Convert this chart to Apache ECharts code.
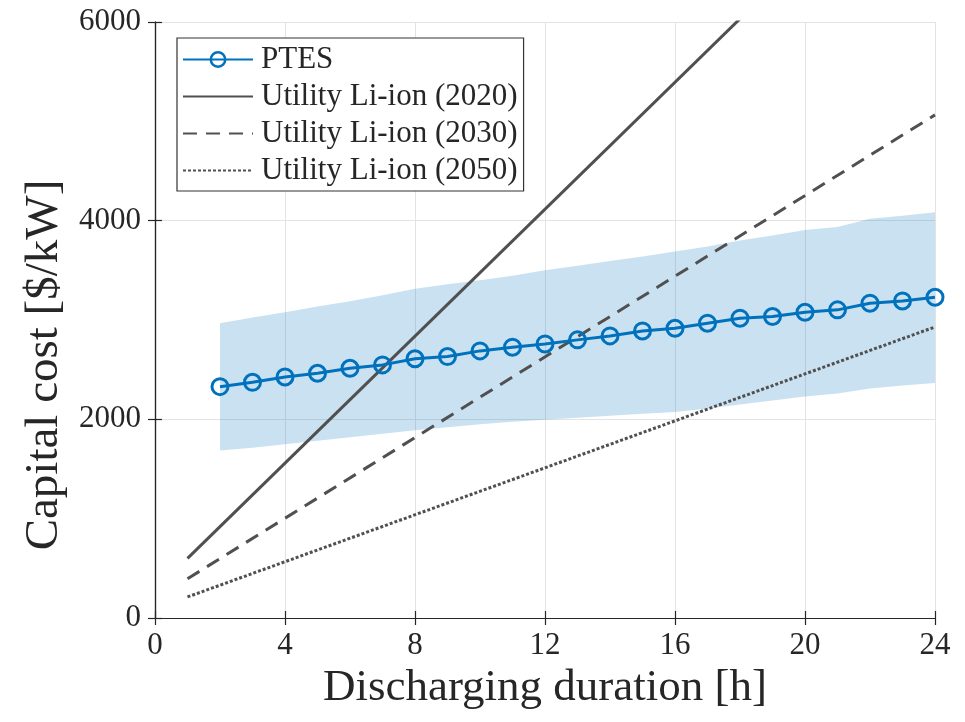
<!DOCTYPE html>
<html>
<head>
<meta charset="utf-8">
<script src="https://cdn.jsdelivr.net/npm/echarts@6/dist/echarts.min.js"></script>
<style>
  html, body { margin: 0; padding: 0; background: #fff; }
  #chart { width: 965px; height: 722px; }
</style>
</head>
<body>
<div id="chart"></div>
<script>
// discharging duration [h] for the PTES points
var hours = [2, 3, 4, 5, 6, 7, 8, 9, 10, 11, 12, 13, 14, 15, 16, 17, 18, 19, 20, 21, 22, 23, 24];
var ptes = [2329, 2373, 2427, 2464, 2514, 2548, 2610, 2632, 2689, 2726, 2759, 2800,
            2840, 2890, 2917, 2968, 3018, 3035, 3078, 3102, 3169, 3192, 3229];
var bandLow = [1685, 1715, 1750, 1785, 1820, 1855, 1890, 1920, 1950, 1975, 1995, 2015,
               2035, 2055, 2075, 2110, 2150, 2190, 2230, 2260, 2310, 2340, 2365];
var bandHigh = [2968, 3025, 3078, 3135, 3190, 3250, 3315, 3360, 3400, 3445, 3500, 3545,
                3595, 3640, 3690, 3740, 3800, 3850, 3905, 3935, 4020, 4050, 4085];

// Li-ion reference lines (end points)
var liHours = [1, 24];
var li2020 = [600, 7950];
var li2030 = [395, 5065];
var li2050 = [212, 2930];

var fontFam = 'Liberation Serif';
var blue = '#0072BD';
var grey = '#505050';
var ink = '#262626';

function pairs(xs, ys) {
	var out = [];
	for (var i = 0; i < xs.length; i++) out.push([xs[i], ys[i]]);
	return out;
}

var bandData = [];
for (var i = 0; i < hours.length; i++) bandData.push([hours[i], bandLow[i], bandHigh[i]]);

// shaded range, drawn once as a polygon through the axis scales
function renderBand(params, api) {
	if (params.dataIndex !== 0) return;
	var pts = [];
	for (var i = 0; i < hours.length; i++) pts.push(api.coord([hours[i], bandHigh[i]]));
	for (var j = hours.length - 1; j >= 0; j--) pts.push(api.coord([hours[j], bandLow[j]]));
	return {
		type: 'polygon',
		shape: {points: pts},
		style: {fill: blue, opacity: 0.21}
	};
}

var myChart = echarts.init(document.getElementById('chart'));

var axisLine = {show: true, lineStyle: {color: ink, width: 1.2}};
var tickIn = {show: true, inside: true, length: 7, lineStyle: {color: ink, width: 1.2}};
var plain = function (v) { return String(v); };
var noSymbol = {opacity: 0};

var option = {
	animation: false,
	backgroundColor: '#fff',
	grid: {left: 155, right: 30, top: 22, bottom: 104, containLabel: false},
	legend: {
		data: [
			{name: 'PTES', itemStyle: {borderWidth: 2.5}},
			{name: 'Utility Li-ion (2020)', itemStyle: noSymbol},
			{name: 'Utility Li-ion (2030)', itemStyle: noSymbol},
			{name: 'Utility Li-ion (2050)', itemStyle: noSymbol}
		],
		orient: 'vertical',
		left: 177,
		top: 38,
		itemWidth: 70,
		itemHeight: 18,
		itemGap: 6,
		padding: [6, 6, 5, 5],
		backgroundColor: '#fff',
		borderColor: '#333',
		borderWidth: 1.2,
		borderRadius: 0,
		textStyle: {fontFamily: fontFam, fontSize: 31, color: ink, padding: [0, 0, 0, 3]}
	},
	xAxis: [{
		type: 'value', position: 'bottom', min: 0, max: 24, interval: 4,
		axisLine: axisLine, axisTick: tickIn,
		axisLabel: {fontFamily: fontFam, fontSize: 31, color: ink, margin: 12, formatter: plain},
		splitLine: {show: true, lineStyle: {color: '#e3e3e3', width: 1}},
		name: 'Discharging duration [h]', nameLocation: 'middle', nameGap: 48,
		nameTextStyle: {fontFamily: fontFam, fontSize: 45, color: ink}
	}, {
		type: 'value', position: 'top', min: 0, max: 24, interval: 4,
		axisLine: axisLine, axisTick: tickIn, axisLabel: {show: false}, splitLine: {show: false}
	}],
	yAxis: [{
		type: 'value', position: 'left', min: 0, max: 6000, interval: 2000,
		axisLine: axisLine, axisTick: tickIn,
		axisLabel: {fontFamily: fontFam, fontSize: 31, color: ink, margin: 14, formatter: plain},
		splitLine: {show: true, lineStyle: {color: '#e3e3e3', width: 1}},
		name: 'Capital cost [$/kW]', nameLocation: 'middle', nameGap: 87,
		nameTextStyle: {fontFamily: fontFam, fontSize: 47, color: ink, padding: [0, 90, 0, 0]}
	}, {
		type: 'value', position: 'right', min: 0, max: 6000, interval: 2000,
		axisLine: axisLine, axisTick: tickIn, axisLabel: {show: false}, splitLine: {show: false}
	}],
	series: [
		{
			name: 'band', type: 'custom', data: bandData, renderItem: renderBand,
			encode: {x: 0, y: [1, 2]}, silent: true, z: 1, clip: true
		},
		{
			name: 'Utility Li-ion (2020)', type: 'line', data: pairs(liHours, li2020),
			symbol: 'none', z: 3, color: grey,
			lineStyle: {color: grey, width: 3, type: 'solid'}
		},
		{
			name: 'Utility Li-ion (2030)', type: 'line', data: pairs(liHours, li2030),
			symbol: 'none', z: 3, color: grey,
			lineStyle: {color: grey, width: 3, type: [14, 9]}
		},
		{
			name: 'Utility Li-ion (2050)', type: 'line', data: pairs(liHours, li2050),
			symbol: 'none', z: 3, color: grey,
			lineStyle: {color: grey, width: 3, type: [3, 2]}
		},
		{
			name: 'PTES', type: 'line', data: pairs(hours, ptes),
			symbol: 'circle', symbolSize: 16, z: 5, color: blue,
			lineStyle: {color: blue, width: 3},
			itemStyle: {color: 'rgba(255,255,255,0)', borderColor: blue, borderWidth: 3}
		}
	]
};
myChart.setOption(option);
</script>
</body>
</html>
